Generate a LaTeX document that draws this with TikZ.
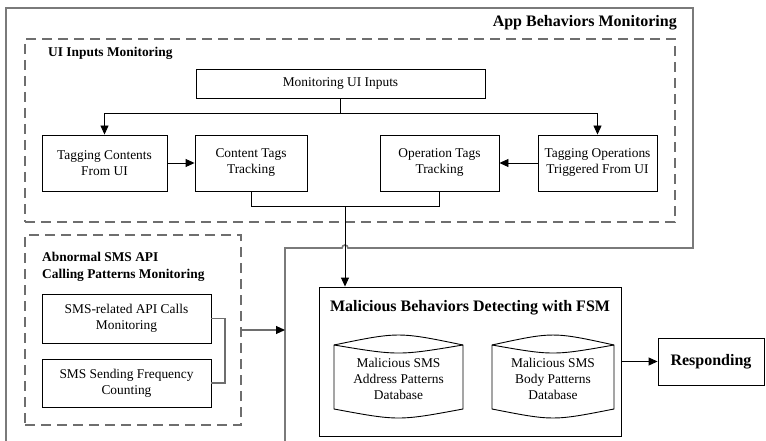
\documentclass[tikz,border=0pt]{standalone}
\usepackage{fontspec}
\setmainfont{Liberation Serif}
\usetikzlibrary{arrows.meta}
\newcommand\nf{\fontsize{13.4pt}{16pt}\selectfont}
\newcommand\bfs{\fontsize{13.4pt}{17pt}\selectfont\bfseries}
\newcommand\bfl{\fontsize{16pt}{19pt}\selectfont\bfseries}
\definecolor{outergray}{HTML}{7A7A7A}
\definecolor{dashgray}{HTML}{6E6E6E}
\tikzset{
  box/.style={draw=black, line width=0.9pt, rectangle, inner sep=0pt, align=center, font=\nf},
  dbox/.style={draw=dashgray, line width=1.3pt, dash pattern=on 10pt off 6pt, rectangle, inner sep=0pt},
  title/.style={inner sep=0pt, align=left},
  conn/.style={draw=black, line width=0.9pt},
  gconn/.style={draw=dashgray, line width=1.1pt},
  arr/.style={-{Triangle[length=9pt,width=8pt,color=black]}},
  dbline/.style={draw=black, line width=0.9pt},
  dbtext/.style={inner sep=0pt, align=center, font=\nf}
}
\begin{document}
\begin{tikzpicture}[x=1pt,y=-1pt]
\useasboundingbox (0,0) rectangle (766,441);
% outer App Behaviors region
\draw[draw=outergray, line width=1.6pt] (6,441) -- (6,8) -- (693,8) -- (693,248) -- (348,248)
  arc[start angle=0, end angle=180, radius=3pt] -- (285,248) -- (285,441);
\node[title, font=\bfl, anchor=east] (apptitle) at (677,23) {App Behaviors Monitoring};

% UI Inputs Monitoring
\node[dbox, minimum width=650pt, minimum height=183pt] (ui) at (350,130.5) {};
\node[title, font=\bfs, anchor=west] (uititle) at (48,53) {UI Inputs Monitoring};
\node[box, minimum width=289pt, minimum height=29pt] (mon) at (340.5,83.5) {Monitoring UI Inputs};
\node[box, minimum width=125pt, minimum height=56pt] (tagc) at (104.5,163) {Tagging Contents\\From UI};
\node[box, minimum width=112pt, minimum height=56pt] (ctt) at (251,163) {Content Tags\\Tracking};
\node[box, minimum width=119pt, minimum height=56pt] (ott) at (439.5,163) {Operation Tags\\Tracking};
\node[box, minimum width=119pt, minimum height=56pt] (tago) at (597.5,163) {Tagging Operations\\Triggered From UI};

\coordinate (mj) at (340.5,113);
\draw[conn] (mon.south) -- (mj);
\draw[conn, arr] (mj) -| (tagc.north);
\draw[conn, arr] (mj) -| (tago.north);
\draw[conn, arr] (tagc.east) -- (ctt.west);
\draw[conn, arr] (tago.west) -- (ott.east);

\coordinate (jm) at (345,206);
\draw[conn] (ctt.south) -- (ctt.south |- jm) -- (ott.south |- jm) -- (ott.south);

% Abnormal SMS API
\node[dbox, minimum width=216pt, minimum height=190pt] (abn) at (133,330) {};
\node[title, font=\bfs, anchor=west] (abntitle) at (42,266.5) {Abnormal SMS API\\Calling Patterns Monitoring};
\node[box, minimum width=169pt, minimum height=49pt] (sms1) at (126.5,318.5) {SMS-related API Calls\\Monitoring};
\node[box, minimum width=169pt, minimum height=48pt] (sms2) at (126.5,383) {SMS Sending Frequency\\Counting};
\coordinate (br) at (225,350);
\draw[gconn] (sms1.east) -| (br) |- (sms2.east);
\coordinate (oin) at (285,330);
\draw[gconn, arr] (abn.east) -- (oin);

% Malicious behaviors detecting
\node[box, minimum width=302pt, minimum height=149pt] (mal) at (470,361.5) {};
\node[title, font=\bfl, anchor=center] (maltitle) at (470,308) {Malicious Behaviors Detecting with FSM};
\draw[conn, arr] (jm) -- (mal.north -| jm);

% databases
\draw[dbline] (334,345) .. controls (398.5,331.7) .. (463,345) -- (463,409)
  .. controls (398.5,421) .. (334,409) -- cycle;
\draw[dbline] (334,345) .. controls (398.5,355.7) .. (463,345);
\node[dbtext] (db1) at (398.5,379) {Malicious SMS\\Address Patterns\\Database};

\draw[dbline] (492,345) .. controls (553,331.7) .. (614,345) -- (614,409)
  .. controls (553,421) .. (492,409) -- cycle;
\draw[dbline] (492,345) .. controls (553,355.7) .. (614,345);
\node[dbtext] (db2) at (553,379) {Malicious SMS\\Body Patterns\\Database};

% Responding
\node[box, font=\bfl, minimum width=106pt, minimum height=47pt] (resp) at (711,361.5) {Responding};
\draw[conn, arr] (mal.east) -- (resp.west);
\end{tikzpicture}
\end{document}
